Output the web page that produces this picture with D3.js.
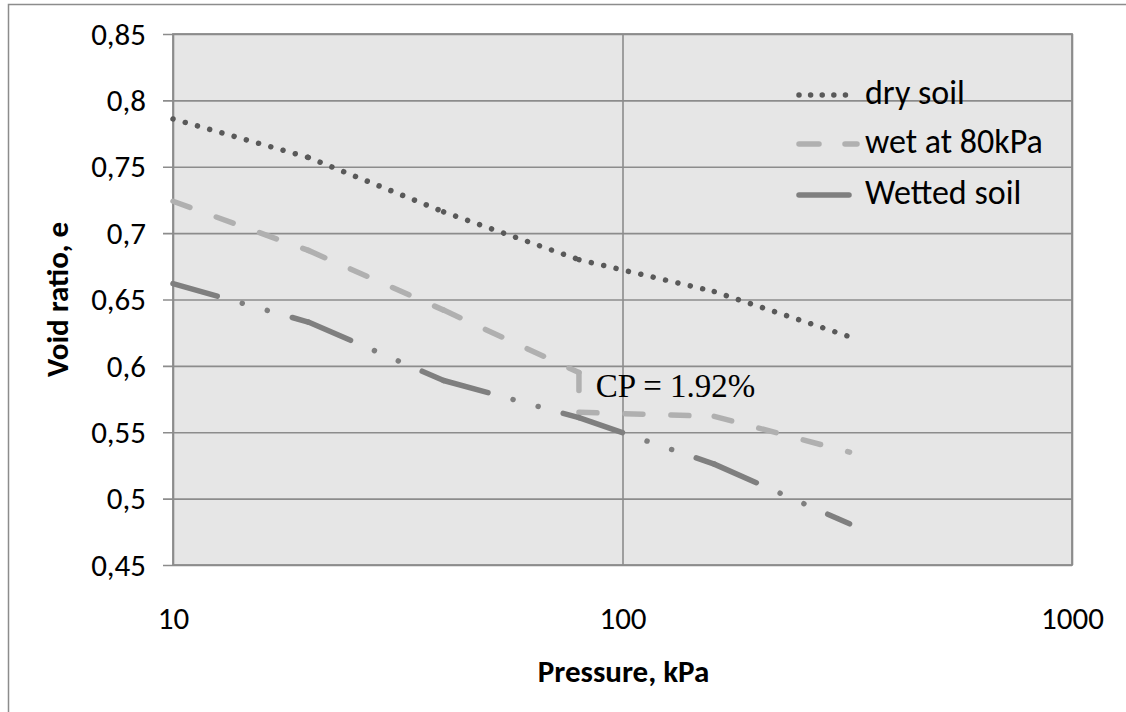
<!DOCTYPE html>
<html>
<head>
<meta charset="utf-8">
<script src="https://cdn.jsdelivr.net/npm/d3@7/dist/d3.min.js"></script>
<style>
  html, body { margin: 0; padding: 0; background: #ffffff; }
  svg { display: block; }
</style>
</head>
<body>
<svg id="chart" width="1126" height="712"></svg>
<script>
// ---------------- data ----------------
const seriesNames = ["dry soil", "wet at 80kPa", "Wetted soil"];

const pressureDry = [10, 20, 40, 80, 160, 320];
const voidDry     = [0.786, 0.757, 0.716, 0.680, 0.656, 0.622];

const pressureWet80 = [10, 20, 40, 80, 80, 160, 320];
const voidWet80     = [0.724, 0.687, 0.642, 0.595, 0.565, 0.562, 0.535];

const pressureWetted = [10, 20, 40, 80, 160, 320];
const voidWetted     = [0.662, 0.633, 0.589, 0.561, 0.526, 0.481];

const xTicks = [10, 100, 1000];
const yTicks = [0.45, 0.5, 0.55, 0.6, 0.65, 0.7, 0.75, 0.8, 0.85];

const annotationText = "CP = 1.92%";
const annotationAt = { p: 82, e: 0.585 };

// ---------------- layout ----------------
const SANS = "Carlito, Calibri, Lato, 'Open Sans', sans-serif";
const SERIF = "'Liberation Serif', 'Times New Roman', serif";

const svg = d3.select("#chart");
const plot = { left: 173, top: 34, right: 1072, bottom: 565 };

const x = d3.scaleLog().domain([10, 1000]).range([plot.left, plot.right]);
const y = d3.scaleLinear().domain([0.45, 0.85]).range([plot.bottom, plot.top]);

// outer chart border
svg.append("rect")
  .attr("x", 8.5).attr("y", 4.5).attr("width", 1200).attr("height", 800)
  .attr("fill", "#fff").attr("stroke", "#8c8c8c").attr("stroke-width", 1.5);

// plot background
svg.append("rect")
  .attr("x", plot.left).attr("y", plot.top)
  .attr("width", plot.right - plot.left).attr("height", plot.bottom - plot.top)
  .attr("fill", "#e6e6e6");

// horizontal gridlines + y ticks
const yAxis = d3.axisLeft(y)
  .tickValues(yTicks)
  .tickSize(-(plot.right - plot.left))
  .tickPadding(18)
  .tickFormat(d => d3.format(".2~f")(d).replace(".", ","));
const gy = svg.append("g").attr("transform", `translate(${plot.left},0)`).call(yAxis);
gy.select(".domain").remove();
gy.selectAll(".tick line").attr("stroke", "#8c8c8c").attr("stroke-width", 1.6)
  .attr("x1", -10);
gy.selectAll(".tick text")
  .style("font-family", SANS).style("font-size", "31px").attr("fill", "#000")
  .attr("x", -27).attr("dy", "0.33em");

// vertical gridlines + x labels
const xAxis = d3.axisBottom(x)
  .tickValues(xTicks)
  .tickSize(-(plot.bottom - plot.top))
  .tickPadding(0)
  .tickFormat(d3.format("d"));
const gx = svg.append("g").attr("transform", `translate(0,${plot.bottom})`).call(xAxis);
gx.select(".domain").remove();
gx.selectAll(".tick line").attr("stroke", "#8c8c8c").attr("stroke-width", 1.6);
gx.selectAll(".tick text")
  .style("font-family", SANS).style("font-size", "31px").attr("fill", "#000")
  .attr("y", 64).attr("dy", "0");

// plot border
svg.append("rect")
  .attr("x", plot.left).attr("y", plot.top)
  .attr("width", plot.right - plot.left).attr("height", plot.bottom - plot.top)
  .attr("fill", "none").attr("stroke", "#8c8c8c").attr("stroke-width", 1.8);

// ---------------- series ----------------
const styles = [
  { color: "#595959", width: 5.5, dash: "0.01,12.7" },
  { color: "#b0b0b0", width: 5.5, dash: "18,28" },
  { color: "#7f7f7f", width: 5.5, dash: "46,26,0.01,26,0.01,26" }
];
const seriesData = [
  d3.zip(pressureDry, voidDry),
  d3.zip(pressureWet80, voidWet80),
  d3.zip(pressureWetted, voidWetted)
];

const line = d3.line().x(d => x(d[0])).y(d => y(d[1]));

seriesData.forEach((pts, i) => {
  const st = styles[i];
  const g = svg.append("g");
  // each segment restarts its dash pattern, as in the original
  for (let k = 0; k < pts.length - 1; k++) {
    g.append("path")
      .attr("d", line([pts[k], pts[k + 1]]))
      .attr("fill", "none")
      .attr("stroke", st.color)
      .attr("stroke-width", st.width)
      .attr("stroke-linecap", "round")
      .attr("stroke-dasharray", st.dash);
  }
});

// annotation
svg.append("text")
  .attr("x", x(annotationAt.p) + 12).attr("y", y(annotationAt.e) + 11)
  .style("font-family", SERIF)
  .style("font-size", "33px")
  .attr("fill", "#000")
  .text(annotationText);

// ---------------- legend ----------------
const legend = svg.append("g");
const legendY = [95, 144, 195];
const legendDash = ["0.01,11.6", "20,26", "50,100"];
seriesNames.forEach((name, i) => {
  const st = styles[i];
  const ly = legendY[i];
  legend.append("path")
    .attr("d", `M799,${ly}H857`)
    .attr("fill", "none")
    .attr("stroke", st.color)
    .attr("stroke-width", st.width)
    .attr("stroke-linecap", "round")
    .attr("stroke-dasharray", legendDash[i]);
  legend.append("text")
    .attr("x", 865).attr("y", ly + 9)
    .style("font-family", SANS)
    .style("font-size", "34px")
    .attr("fill", "#000")
    .text(name);
});

// ---------------- axis titles ----------------
svg.append("text")
  .attr("transform", `translate(68,${(plot.top + plot.bottom) / 2}) rotate(-90)`)
  .attr("text-anchor", "middle")
  .style("font-family", SANS)
  .style("font-weight", "bold")
  .style("font-size", "31px")
  .attr("fill", "#000")
  .text("Void ratio, e");

svg.append("text")
  .attr("x", (plot.left + plot.right) / 2 + 1).attr("y", 682)
  .attr("text-anchor", "middle")
  .style("font-family", SANS)
  .style("font-weight", "bold")
  .style("font-size", "31px")
  .attr("fill", "#000")
  .text("Pressure, kPa");
</script>
</body>
</html>
